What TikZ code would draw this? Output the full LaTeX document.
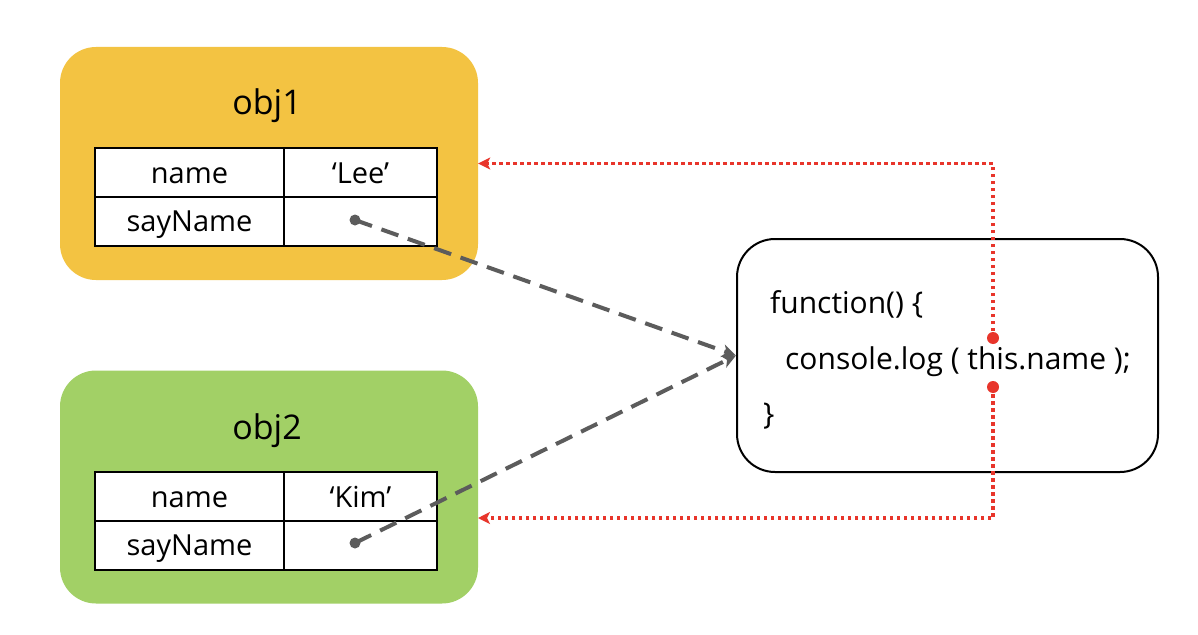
\documentclass[tikz,border=0pt]{standalone}
\usepackage{fontspec}
\setmainfont{Open Sans}
\usetikzlibrary{arrows.meta}
\definecolor{objyellow}{HTML}{F3C342}
\definecolor{objgreen}{HTML}{A2D066}
\definecolor{linkred}{HTML}{E8352B}
\definecolor{linkgray}{HTML}{5C5C5C}
\tikzset{
  objbox/.style={fill=#1, rounded corners=36pt, minimum width=418pt, minimum height=233pt, inner sep=0pt},
  objtitle/.style={font=\fontsize{34}{38}\selectfont, inner sep=0pt},
  cellbox/.style={draw=black, line width=2pt, fill=white, inner sep=0pt, text height=21pt, text depth=0pt, font=\fontsize{29}{32}\selectfont},
  keycell/.style={cellbox, minimum width=189pt, minimum height=49pt},
  valcell/.style={cellbox, minimum width=153pt, minimum height=49pt},
  graydot/.style={circle, fill=linkgray, minimum size=11pt, inner sep=0pt},
  reddotnode/.style={circle, fill=linkred, minimum size=12pt, inner sep=0pt},
  funcbox/.style={draw=black, line width=2pt, fill=white, rounded corners=38pt, minimum width=421pt, minimum height=233pt, inner sep=0pt},
  codeline/.style={font=\fontsize{30}{33}\selectfont, inner sep=0pt, anchor=base west},
  graylink/.style={draw=linkgray, line width=4pt, dash pattern=on 18pt off 10pt, -{Stealth[length=14pt,width=13pt,inset=4pt]}},
  redlink/.style={draw=linkred, line width=3.5pt, dash pattern=on 3.5pt off 3.5pt, -{Stealth[length=12pt,width=12pt,inset=3pt]}}
}
\begin{document}
\begin{tikzpicture}[x=1pt,y=-1pt]
\fill[white] (0,0) rectangle (1198,634);
\useasboundingbox (0,0) rectangle (1198,634);

% obj1
\node[objbox=objyellow] (obj1) at (269,163.5) {};
\node[objtitle] (obj1t) at (267,106) {obj1};
\node[keycell] (k11) at (189.5,172.5) {name};
\node[valcell] (v11) at (360.5,172.5) {‘Lee’};
\node[keycell] (k12) at (189.5,221) {sayName};
\node[valcell] (v12) at (360.5,221) {};

% obj2
\node[objbox=objgreen] (obj2) at (269,487) {};
\node[objtitle] (obj2t) at (267,431) {obj2};
\node[keycell] (k21) at (189.5,496.5) {name};
\node[valcell] (v21) at (360.5,496.5) {‘Kim’};
\node[keycell] (k22) at (189.5,545) {sayName};
\node[valcell] (v22) at (360.5,545) {};

% function box
\node[funcbox] (func) at (947.5,355.5) {};
\node[codeline] (l1) at (770,313) {function() \{};
\node[codeline] (l2) at (785,369) {console.log ( this.name );};
\node[codeline] (l3) at (763,424) {\}};

% dots
\node[graydot] (d1) at (355,220) {};
\node[graydot] (d2) at (355,543) {};
\node[reddotnode] (r1) at (993,338) {};
\node[reddotnode] (r2) at (993,387) {};
\coordinate (t2) at (478,518);

% gray dashed links
\draw[graylink] (d1.center) -- (func.west);
\draw[graylink] (d2.center) -- (func.west);

% red dotted links
\draw[redlink] (r1.center) |- (obj1.east);
\draw[redlink] (r2.center) |- (t2);
\end{tikzpicture}
\end{document}
